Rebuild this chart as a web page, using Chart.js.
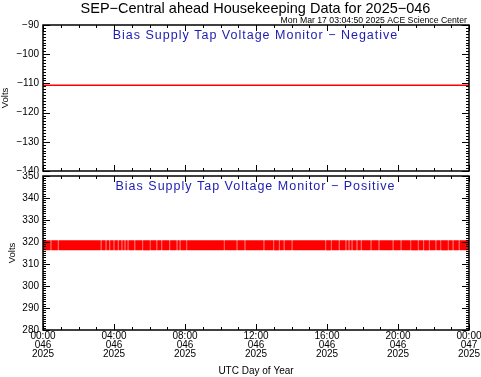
<!DOCTYPE html>
<html>
<head>
<meta charset="utf-8">
<title>SEP-Central ahead Housekeeping Data</title>
<script src="https://cdn.jsdelivr.net/npm/chart.js"></script>
<style>
    body {
        margin: 0;
        background-color: #fff;
    }
    #wrap {
        position: relative;
        width: 481px;
        height: 377px;
    }
    canvas {
        position: absolute;
        left: 0;
    }
    #neg_chart { top: 0; }
    #pos_chart { top: 172px; }
</style>
</head>
<body>
<div id="wrap">
    <canvas id="neg_chart" width="481" height="172"></canvas>
    <canvas id="pos_chart" width="481" height="205"></canvas>
</div>

<script>
const mainTitle = 'SEP\u2212Central ahead Housekeeping Data for 2025\u2212046';
const stampText = 'Mon Mar 17 03:04:50 2025 ACE Science Center';
const negLabel = 'Bias Supply Tap Voltage Monitor \u2212 Negative';
const posLabel = 'Bias Supply Tap Voltage Monitor \u2212 Positive';

// x axis: hours of the day, labels in three rows
const hourTicks = [0, 4, 8, 12, 16, 20, 24];
const timeLabels = ['00:00', '04:00', '08:00', '12:00', '16:00', '20:00', '00:00'];
const dayLabels = ['046', '046', '046', '046', '046', '046', '047'];
const yearLabels = ['2025', '2025', '2025', '2025', '2025', '2025', '2025'];

// negative monitor: flat trace
const negHours = [0, 24];
const negVolts = [-110.6, -110.6];

// positive monitor: solid band between two levels, with thin gaps
const posLow = 316.2;
const posHigh = 320.8;
const posGapHours = [0.45, 0.85, 3.27, 3.55, 3.77, 4.00, 4.23, 4.45, 4.62, 4.79, 5.18, 5.63,
    6.03, 6.42, 6.70, 7.15, 7.55, 7.72, 8.11, 10.20, 10.93, 11.38, 12.45, 13.01, 13.30,
    13.58, 14.03, 15.94, 16.23, 16.68, 17.07, 17.24, 17.41, 17.69, 17.92, 18.48, 18.93,
    19.72, 20.17, 20.73, 21.13, 21.46, 21.75, 22.14, 22.42, 22.82, 23.10, 23.44];
const gapHalf = 0.008;

Chart.defaults.font.family = "'Liberation Sans', Arial, sans-serif";
Chart.defaults.color = '#000';

const negPoints = negHours.map((h, i) => ({x: h, y: negVolts[i]}));

const posPoints = [{x: 0, y: posHigh}];
posGapHours.forEach(h => {
    posPoints.push({x: h - gapHalf, y: posHigh});
    posPoints.push({x: h, y: null});
    posPoints.push({x: h + gapHalf, y: posHigh});
});
posPoints.push({x: 24, y: posHigh});

// IDL style frame: box, inward ticks on all four sides, plus text
const idlFrame = {
    id: 'idlFrame',
    afterDraw(chart, args, opts) {
        const ctx = chart.ctx;
        const a = chart.chartArea;
        const xs = chart.scales.x;
        const ys = chart.scales.y;
        ctx.save();
        ctx.strokeStyle = '#000';
        ctx.lineWidth = 1;
        ctx.beginPath();
        for (let v = ys.min; v <= ys.max; v += 1) {
            const py = Math.round(ys.getPixelForValue(v)) + 0.5;
            const len = v % 10 === 0 ? 7 : 3;
            ctx.moveTo(a.left, py);
            ctx.lineTo(a.left + len, py);
            ctx.moveTo(a.right, py);
            ctx.lineTo(a.right - len, py);
        }
        for (let h = 0; h <= 24; h += 1) {
            const px = Math.round(xs.getPixelForValue(h)) + 0.5;
            const len = h % 4 === 0 ? 6 : 3;
            ctx.moveTo(px, a.top);
            ctx.lineTo(px, a.top + len);
            ctx.moveTo(px, a.bottom);
            ctx.lineTo(px, a.bottom - len);
        }
        ctx.stroke();
        ctx.lineWidth = 1.5;
        ctx.strokeRect(a.left, a.top, a.right - a.left, a.bottom - a.top);

        (opts.texts || []).forEach(t => {
            ctx.font = t.font;
            ctx.fillStyle = t.color;
            ctx.textAlign = t.align;
            ctx.textBaseline = 'alphabetic';
            ctx.letterSpacing = t.spacing || '0px';
            ctx.fillText(t.text, t.x, t.y);
        });
        ctx.restore();
    }
};

function yAxis(min, max, titlePad, fmt) {
    return {
        type: 'linear',
        min: min,
        max: max,
        grid: { display: false, drawTicks: false },
        border: { display: false },
        ticks: {
            stepSize: 10,
            padding: 4,
            font: { size: 10 },
            callback: fmt
        },
        title: {
            display: true,
            text: 'Volts',
            font: { size: 9.5 },
            padding: { top: titlePad, bottom: 0 }
        },
        afterFit(scale) {
            scale.width = 43;
            scale.paddingTop = 0;
            scale.paddingBottom = 0;
        }
    };
}

const fontLabel = "12.5px 'Liberation Sans', Arial, sans-serif";
const blue = '#1c1cb0';

new Chart(document.getElementById('neg_chart').getContext('2d'), {
    type: 'line',
    data: {
        datasets: [{
            data: negPoints,
            borderColor: '#ff0000',
            borderWidth: 1.5,
            pointRadius: 0,
            fill: false
        }]
    },
    options: {
        responsive: false,
        animation: false,
        devicePixelRatio: 1,
        layout: { padding: { top: 25, right: 12, bottom: 1, left: 0 } },
        scales: {
            x: { type: 'linear', min: 0, max: 24, display: false },
            y: yAxis(-140, -90, 0, v => v < 0 ? '\u2212' + Math.abs(v) : v)
        },
        plugins: {
            legend: { display: false },
            tooltip: { enabled: false },
            idlFrame: {
                texts: [
                    { text: mainTitle, x: 255.5, y: 13, align: 'center', color: '#000',
                      font: "14.5px 'Liberation Sans', Arial, sans-serif" },
                    { text: stampText, x: 467, y: 22.5, align: 'right', color: '#000',
                      font: "8.7px 'Liberation Sans', Arial, sans-serif" },
                    { text: negLabel, x: 255.5, y: 38.5, align: 'center', color: blue,
                      font: fontLabel, spacing: '1px' }
                ]
            }
        }
    },
    plugins: [idlFrame]
});

new Chart(document.getElementById('pos_chart').getContext('2d'), {
    type: 'line',
    data: {
        datasets: [{
            data: posPoints,
            borderColor: '#ff0000',
            backgroundColor: '#ff0000',
            borderWidth: 0,
            pointRadius: 0,
            spanGaps: false,
            fill: { value: posLow }
        }]
    },
    options: {
        responsive: false,
        animation: false,
        devicePixelRatio: 1,
        layout: { padding: { top: 4, right: 12, bottom: 0, left: 0 } },
        scales: {
            x: {
                type: 'linear',
                min: 0,
                max: 24,
                grid: { display: false, drawTicks: false },
                border: { display: false },
                afterBuildTicks(scale) {
                    scale.ticks = hourTicks.map(v => ({ value: v }));
                },
                ticks: {
                    autoSkip: false,
                    maxRotation: 0,
                    padding: 2,
                    font: { size: 10, lineHeight: 0.9 },
                    callback: v => {
                        const i = hourTicks.indexOf(v);
                        return [timeLabels[i], dayLabels[i], yearLabels[i]];
                    }
                },
                title: {
                    display: true,
                    text: 'UTC Day of Year',
                    font: { size: 10 },
                    padding: { top: 0, bottom: 0 }
                },
                afterFit(scale) {
                    scale.height = 47;
                    scale.paddingLeft = 0;
                    scale.paddingRight = 0;
                }
            },
            y: yAxis(280, 350, 6.6, v => v)
        },
        plugins: {
            legend: { display: false },
            tooltip: { enabled: false },
            idlFrame: {
                texts: [
                    { text: posLabel, x: 255.5, y: 17.5, align: 'center', color: blue,
                      font: fontLabel, spacing: '1px' }
                ]
            }
        }
    },
    plugins: [idlFrame]
});
</script>
</body>
</html>
